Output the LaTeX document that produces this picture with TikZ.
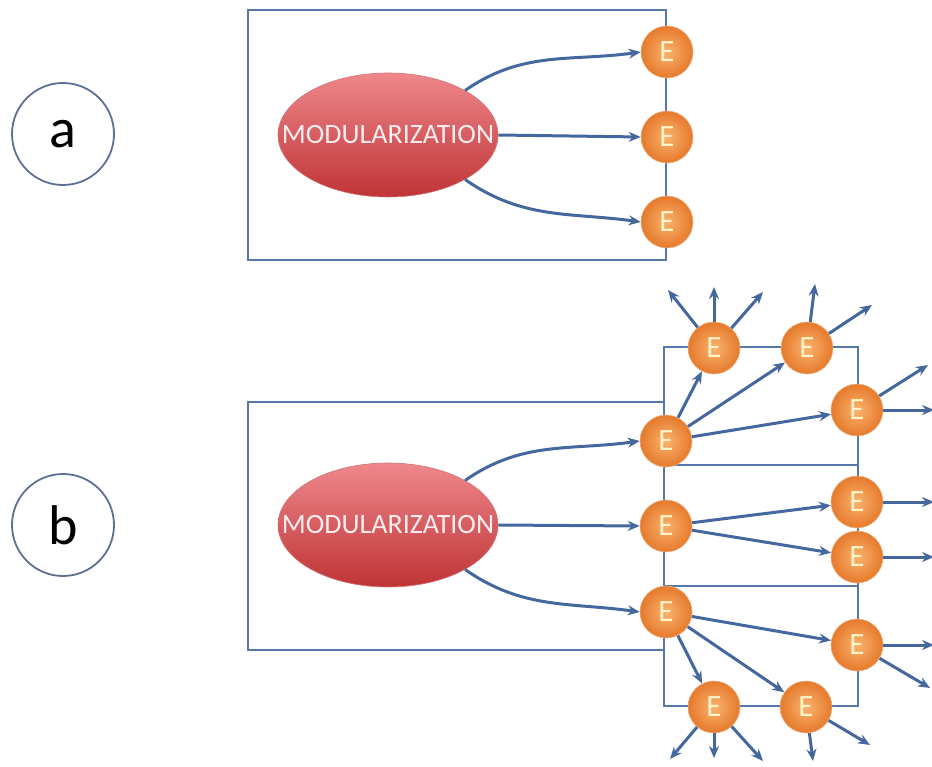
\documentclass[tikz,border=0pt]{standalone}
\usepackage{fontspec}
\setmainfont{Carlito}
\usetikzlibrary{arrows.meta,shapes.geometric}
\definecolor{frameblue}{HTML}{5677AA}
\definecolor{arrowblue}{HTML}{44679E}
\definecolor{ringblue}{HTML}{5E6F94}
\definecolor{eLight}{HTML}{FBB26E}
\definecolor{eDark}{HTML}{E57A2C}
\definecolor{eText}{HTML}{FFF3C8}
\definecolor{modTop}{HTML}{EE878B}
\definecolor{modBot}{HTML}{BF3436}
\definecolor{modText}{HTML}{FDEDEE}
\tikzset{
  frame/.style={draw=frameblue, line width=2.6pt},
  link/.style={draw=arrowblue, line width=3pt, -{Stealth[length=12pt,width=10pt]}},
  enode/.style={circle, minimum size=52pt, inner sep=0pt, draw=eDark!60!white, line width=0.6pt,
    shading=radial, inner color=eLight, outer color=eDark, text=eText,
    font=\fontsize{31}{31}\selectfont},
  modnode/.style={ellipse, minimum width=220pt, minimum height=124pt, inner sep=0pt,
    top color=modTop, bottom color=modBot, draw=modBot!70!white, line width=0.6pt,
    text=modText, font=\fontsize{28}{28}\selectfont},
  tag/.style={circle, minimum size=102pt, inner sep=0pt, draw=ringblue, line width=1.8pt,
    font=\fontsize{56}{56}\selectfont}
}
\begin{document}
\begin{tikzpicture}[x=1pt,y=-1pt]
\useasboundingbox (0,0) rectangle (932,767);

% part (a)
\node[tag] (ta) at (63,134) {a};
\draw[frame] (248,10) rectangle (666,260);
\node[modnode] (ma) at (388,135) {\makebox[0pt]{MODULARIZATION}};
\node[enode] (ea1) at (667,52) {E};
\node[enode] (ea2) at (667,137) {E};
\node[enode] (ea3) at (667,222) {E};
\draw[link] (ma.30) to[out=35,in=188] (ea1.west);
\draw[link] (ma.east) -- (ea2.west);
\draw[link] (ma.-30) to[out=-35,in=172] (ea3.west);

% part (b): frames
\node[tag] (tb) at (63,525) {b};
\draw[frame] (664,402) -- (248,402) -- (248,650) -- (664,650);
\draw[frame] (664,347) rectangle (858,465);
\draw[frame] (664,465) rectangle (858,586);
\draw[frame] (664,586) rectangle (858,706);

% part (b): nodes
\node[modnode] (mb) at (388,525) {\makebox[0pt]{MODULARIZATION}};
\node[enode] (eb1) at (666,441) {E};
\node[enode] (eb2) at (666,526) {E};
\node[enode] (eb3) at (666,612) {E};
\node[enode] (et1) at (714,348) {E};
\node[enode] (et2) at (807,348) {E};
\node[enode] (er1) at (857,410) {E};
\node[enode] (er2) at (857,502) {E};
\node[enode] (er3) at (857,557) {E};
\node[enode] (er4) at (857,645) {E};
\node[enode] (ed1) at (714,707) {E};
\node[enode] (ed2) at (806,707) {E};

% free ends of the outgoing arrows
\coordinate (o1) at (668,290);
\coordinate (o2) at (714,287);
\coordinate (o3) at (763,292);
\coordinate (o4) at (815,284);
\coordinate (o5) at (872,305);
\coordinate (o6) at (928,365);
\coordinate (o7) at (934,410);
\coordinate (o8) at (934,502);
\coordinate (o9) at (934,557);
\coordinate (o10) at (934,645);
\coordinate (o11) at (930,688);
\coordinate (o12) at (670,759);
\coordinate (o13) at (714,758);
\coordinate (o14) at (763,761);
\coordinate (o15) at (813,761);
\coordinate (o16) at (870,745);

% part (b): connectors
\draw[link] (mb.30) to[out=35,in=188] (eb1.west);
\draw[link] (mb.east) -- (eb2.west);
\draw[link] (mb.-30) to[out=-35,in=172] (eb3.west);
\draw[link] (eb1) -- (et1);
\draw[link] (eb1) -- (et2);
\draw[link] (eb1) -- (er1);
\draw[link] (eb2) -- (er2);
\draw[link] (eb2) -- (er3);
\draw[link] (eb3) -- (er4);
\draw[link] (eb3) -- (ed2);
\draw[link] (eb3) -- (ed1);
\draw[link] (et1) -- (o1);
\draw[link] (et1) -- (o2);
\draw[link] (et1) -- (o3);
\draw[link] (et2) -- (o4);
\draw[link] (et2) -- (o5);
\draw[link] (er1) -- (o6);
\draw[link] (er1) -- (o7);
\draw[link] (er2) -- (o8);
\draw[link] (er3) -- (o9);
\draw[link] (er4) -- (o10);
\draw[link] (er4) -- (o11);
\draw[link] (ed1) -- (o12);
\draw[link] (ed1) -- (o13);
\draw[link] (ed1) -- (o14);
\draw[link] (ed2) -- (o15);
\draw[link] (ed2) -- (o16);
\end{tikzpicture}
\end{document}
